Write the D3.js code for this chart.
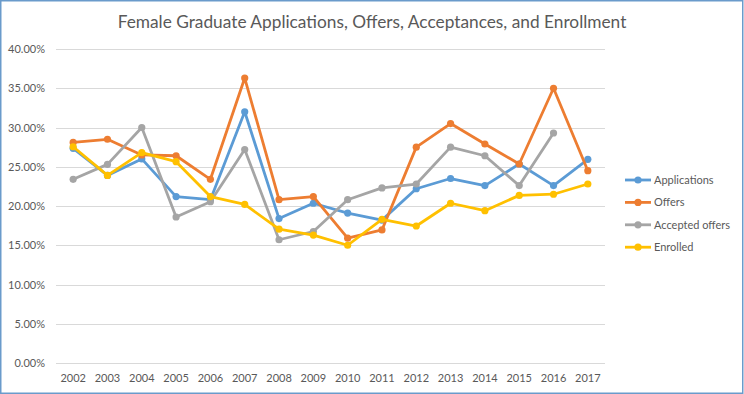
<!DOCTYPE html>
<html>
<head>
<meta charset="utf-8">
<script src="https://cdn.jsdelivr.net/npm/d3@7"></script>
<style>
  body { margin: 0; background: #fff; }
  svg { display: block; font-family: Lato, "Open Sans", sans-serif; }
</style>
</head>
<body>
<script>
// data
const years = ["2002", "2003", "2004", "2005", "2006", "2007", "2008", "2009",
  "2010", "2011", "2012", "2013", "2014", "2015", "2016", "2017"];
const applications = [27.35, 23.9, 26.0, 21.2, 20.8, 32.0, 18.4, 20.35, 19.1, 18.2, 22.2, 23.5, 22.6, 25.35, 22.6, 25.95];
const offers = [28.1, 28.5, 26.5, 26.4, 23.4, 36.3, 20.8, 21.2, 15.9, 16.95, 27.5, 30.5, 27.9, 25.35, 35.0, 24.5];
const acceptedOffers = [23.4, 25.3, 30.0, 18.6, 20.55, 27.2, 15.7, 16.75, 20.8, 22.3, 22.8, 27.5, 26.4, 22.6, 29.3, null];
const enrolled = [27.55, 23.9, 26.8, 25.65, 21.2, 20.2, 17.05, 16.3, 15.0, 18.3, 17.45, 20.35, 19.4, 21.35, 21.5, 22.8];
const yTicks = [0, 5, 10, 15, 20, 25, 30, 35, 40];

const series = [
  { name: "Applications", values: applications, color: "#5B9BD5" },
  { name: "Offers", values: offers, color: "#ED7D31" },
  { name: "Accepted offers", values: acceptedOffers, color: "#A5A5A5" },
  { name: "Enrolled", values: enrolled, color: "#FFC000" }
];

const width = 744, height = 394;
const margin = { top: 49, right: 139, bottom: 31, left: 56 };
const textColor = "#595959";

const svg = d3.select("body").append("svg")
  .attr("width", width)
  .attr("height", height);

// outer frame
svg.append("rect")
  .attr("x", 0.75).attr("y", 0.75)
  .attr("width", width - 2).attr("height", height - 1.5)
  .attr("fill", "#fff")
  .attr("stroke", "#6A9BCB")
  .attr("stroke-width", 1.5);

const x = d3.scalePoint()
  .domain(years)
  .range([margin.left, width - margin.right])
  .padding(0.5);

const y = d3.scaleLinear()
  .domain([0, 40])
  .range([height - margin.bottom, margin.top]);

// gridlines
svg.append("g")
  .selectAll("line")
  .data(yTicks)
  .join("line")
  .attr("x1", margin.left)
  .attr("x2", width - margin.right)
  .attr("y1", d => Math.round(y(d)) + 0.5)
  .attr("y2", d => Math.round(y(d)) + 0.5)
  .attr("stroke", "#D9D9D9")
  .attr("stroke-width", 1);

// y axis labels
svg.append("g")
  .selectAll("text")
  .data(yTicks)
  .join("text")
  .attr("x", 45)
  .attr("y", d => y(d) + 4)
  .attr("text-anchor", "end")
  .attr("fill", textColor)
  .style("font-size", "11px")
  .text(d => d3.format(".2f")(d) + "%");

// x axis labels
svg.append("g")
  .selectAll("text")
  .data(years)
  .join("text")
  .attr("x", d => x(d))
  .attr("y", 382)
  .attr("text-anchor", "middle")
  .attr("fill", textColor)
  .style("font-size", "11px")
  .text(d => d);

const line = d3.line()
  .defined(d => d.v != null)
  .x(d => x(d.year))
  .y(d => y(d.v));

series.forEach(s => {
  const pts = years.map((yr, i) => ({ year: yr, v: s.values[i] }));
  const g = svg.append("g");
  g.append("path")
    .datum(pts)
    .attr("d", line)
    .attr("fill", "none")
    .attr("stroke", s.color)
    .attr("stroke-width", 2.8)
    .attr("stroke-linejoin", "round")
    .attr("stroke-linecap", "round");
  g.selectAll("circle")
    .data(pts.filter(d => d.v != null))
    .join("circle")
    .attr("cx", d => x(d.year))
    .attr("cy", d => y(d.v))
    .attr("r", 3.6)
    .attr("fill", s.color);
});

// legend
const legend = svg.append("g")
  .selectAll("g")
  .data(series)
  .join("g")
  .attr("transform", (d, i) => `translate(625,${180 + i * 22.4})`);
legend.append("line")
  .attr("x1", 0).attr("x2", 26)
  .attr("stroke", d => d.color)
  .attr("stroke-width", 2.8);
legend.append("circle")
  .attr("cx", 13).attr("r", 3.6)
  .attr("fill", d => d.color);
legend.append("text")
  .attr("x", 29).attr("y", 4)
  .attr("fill", textColor)
  .style("font-size", "11px")
  .text(d => d.name);

// title
svg.append("text")
  .attr("x", 372)
  .attr("y", 28)
  .attr("text-anchor", "middle")
  .attr("fill", textColor)
  .style("font-size", "17.3px")
  .text("Female Graduate Applications, Offers, Acceptances, and Enrollment");
</script>
</body>
</html>
